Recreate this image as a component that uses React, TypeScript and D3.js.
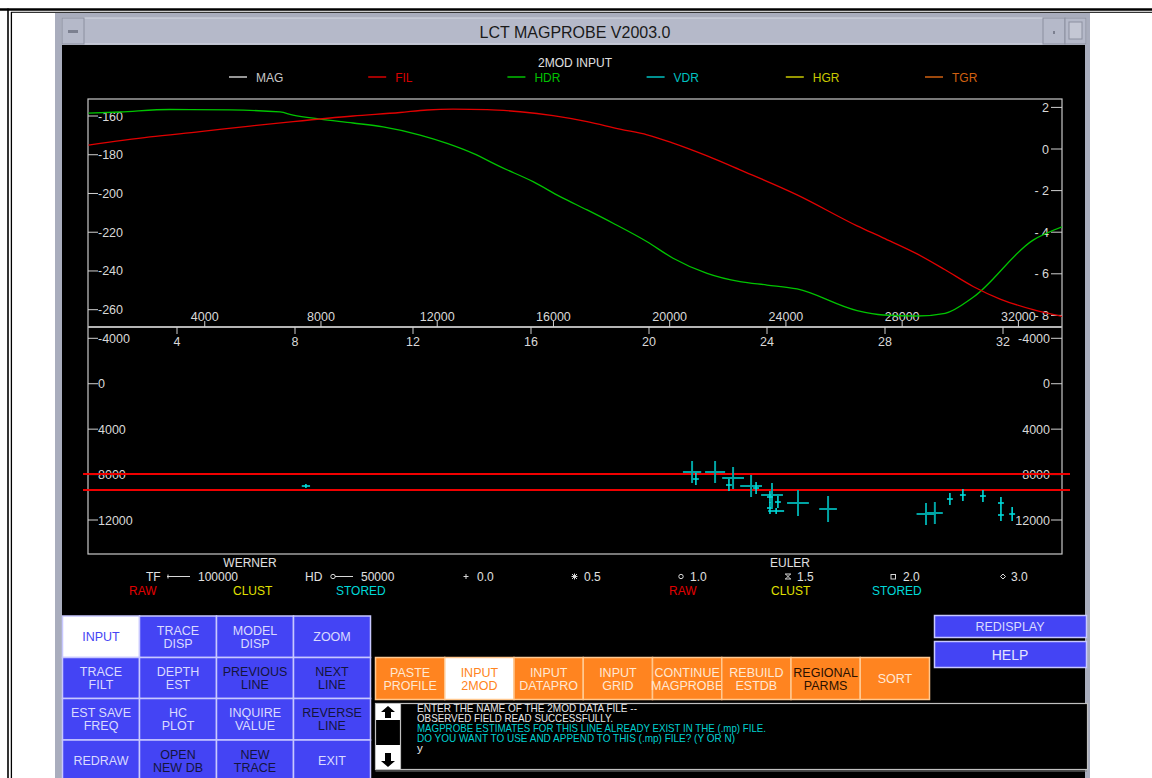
import * as d3 from "d3";

// top profile (distance in m)
const filDist = [0, 2116, 3838, 5559, 7040, 9105, 10723, 11652, 12547, 13717, 14853, 15988, 17158, 18290, 19222, 20117, 21287, 22422, 24384, 26449, 27344, 28514, 29477, 30441, 31370, 32506, 33504];
const filVal = [-175.0, -170.8, -168.1, -165.2, -162.9, -160.0, -158.2, -156.9, -156.5, -156.7, -157.8, -159.8, -162.9, -166.8, -169.7, -174.0, -180.6, -187.8, -200.7, -216.7, -222.9, -231.2, -239.4, -248.0, -254.5, -260.0, -263.5];
const hdrDist = [0, 1084, 2805, 4869, 6590, 7040, 7969, 9105, 10137, 11411, 12340, 13235, 14164, 15299, 16229, 17158, 18053, 19222, 20117, 21287, 22422, 23351, 24384, 26449, 27344, 28514, 29477, 30441, 32506, 33504];
const hdrVal = [1.72, 1.78, 1.9, 1.88, 1.78, 1.63, 1.44, 1.25, 1.06, 0.67, 0.27, -0.21, -0.85, -1.57, -2.29, -2.93, -3.57, -4.46, -5.25, -5.98, -6.38, -6.54, -6.73, -7.77, -7.98, -8.03, -7.9, -7.13, -4.38, -3.74];

// depth solutions (km, m)
const solKm = [21.46, 21.59, 22.24, 22.85, 22.71, 23.46, 23.63, 24.17, 24.1, 24.1, 24.37, 24.31, 25.05, 26.07, 29.39, 29.69, 30.2, 30.64, 31.32, 31.93, 31.93, 32.31, 8.37];
const solDepth = [7774, 8390, 7774, 8302, 8918, 9007, 9183, 9799, 9975, 10944, 10415, 11208, 10504, 11032, 11472, 11384, 10151, 9799, 9887, 10504, 11560, 11472, 9007];
const solErrKm = [0.31, 0.1, 0.34, 0.37, 0.1, 0.37, 0.1, 0.37, 0.1, 0.1, 0.1, 0.27, 0.37, 0.3, 0.32, 0.27, 0.1, 0.1, 0.1, 0.1, 0.1, 0.1, 0.14];
const solErrDepth = [969, 530, 969, 969, 530, 969, 530, 1057, 530, 530, 530, 260, 1145, 1145, 969, 969, 530, 530, 530, 530, 530, 620, 180];
const horizonDepths = [7950, 9360];

const leftTicksTop = [-160, -180, -200, -220, -240, -260];
const rightTicksTop = [2, 0, -2, -4, -6, -8];
const meterTicks = [4000, 8000, 12000, 16000, 20000, 24000, 28000, 32000];
const kmTicks = [4, 8, 12, 16, 20, 24, 28, 32];
const depthTicks = [-4000, 0, 4000, 8000, 12000];

const legendNames = ["MAG", "FIL", "HDR", "VDR", "HGR", "TGR"];
const legendColors = ["#c8c8c8", "#d80000", "#00c000", "#00c0c0", "#c8c800", "#d06010"];

const leftButtons = [
  ["INPUT"], ["TRACE", "DISP"], ["MODEL", "DISP"], ["ZOOM"],
  ["TRACE", "FILT"], ["DEPTH", "EST"], ["PREVIOUS", "LINE"], ["NEXT", "LINE"],
  ["EST SAVE", "FREQ"], ["HC", "PLOT"], ["INQUIRE", "VALUE"], ["REVERSE", "LINE"],
  ["REDRAW"], ["OPEN", "NEW DB"], ["NEW", "TRACE"], ["EXIT"],
];
const leftDark = [6, 7, 11, 13, 14];
const orangeButtons = [["PASTE", "PROFILE"], ["INPUT", "2MOD"], ["INPUT", "DATAPRO"], ["INPUT", "GRID"], ["CONTINUE", "MAGPROBE"], ["REBUILD", "ESTDB"], ["REGIONAL", "PARMS"], ["SORT"]];
const messages = [
  ["ENTER THE NAME OF THE 2MOD DATA FILE --", "#e8e8e8", 220],
  ["OBSERVED FIELD READ SUCCESSFULLY.", "#e8e8e8", 196],
  ["MAGPROBE ESTIMATES FOR THIS LINE ALREADY EXIST IN THE (.mp) FILE.", "#00d0d0", 349],
  ["DO YOU WANT TO USE AND APPEND TO THIS (.mp) FILE? (Y OR N)", "#00d0d0", 318],
  ["y", "#e8e8e8", 0],
];

const font = "Liberation Sans, Arial, sans-serif";
const BLUE = "#4444f4";
const ORANGE = "#ff8420";
const LEG = "#d8d8d8";

const px0 = 88, px1 = 1062, topY0 = 99, midY = 327, botY1 = 554;

const xM = d3.scaleLinear().domain([0, 33500]).range([88.5, 1062]);
const xKm = d3.scaleLinear().domain([0, 34]).range([59, 1062]);
const yL = d3.scaleLinear().domain([-160, -260]).range([116, 309.7]);
const yR = d3.scaleLinear().domain([2, -8]).range([107.4, 315.4]);
const yD = d3.scaleLinear().domain([-4000, 12000]).range([338.3, 520]);

const Lines = ({ lines, x, y, fill, size = 12.5, gap = 13 }: any) => (
  <text x={x} textAnchor="middle" fill={fill} fontSize={size} fontFamily={font}>
    {lines.map((l: string, i: number) => (
      <tspan key={i} x={x} y={y + (i - (lines.length - 1) / 2) * gap + 4.5}>{l}</tspan>
    ))}
  </text>
);

export default function App() {
  const filLine = d3.line<number>().x((_, i) => xM(filDist[i])).y((v) => yL(v)).curve(d3.curveMonotoneX)(filVal) || "";
  const hdrLine = d3.line<number>().x((_, i) => xM(hdrDist[i])).y((v) => yR(v)).curve(d3.curveMonotoneX)(hdrVal) || "";
  const colW = 77, rowTops = [616, 657.5, 698.5, 740, 790];
  const oW = (929 - 375) / 8;
  const my = 576.5;

  return (
    <svg width={1152} height={778} style={{ position: "absolute", left: 0, top: 0, background: "#fff" }} fontFamily={font}>
      <defs>
        <clipPath id="topClip"><rect x={px0} y={topY0} width={px1 - px0} height={midY - topY0} /></clipPath>
      </defs>
      {/* page borders */}
      <line x1={0} x2={1152} y1={9.5} y2={9.5} stroke="#000" strokeWidth={2.5} />
      <line x1={11} x2={1152} y1={12.3} y2={12.3} stroke="#000" strokeWidth={1} />
      <line x1={8} x2={8} y1={8.5} y2={778} stroke="#000" strokeWidth={1.6} />
      <line x1={11.4} x2={11.4} y1={12} y2={778} stroke="#000" strokeWidth={1.3} />

      {/* window */}
      <rect x={55} y={13} width={1035} height={765} fill="#a9adbd" />
      <rect x={62} y={18} width={1024} height={26} fill="#b5b9c9" stroke="#d4d7e2" />
      <rect x={62} y={18} width={22} height={26} fill="#b5b9c9" stroke="#8c90a0" />
      <rect x={68} y={30} width={10} height={3} fill="#7c8090" />
      <rect x={1043} y={18} width={22} height={26} fill="#b5b9c9" stroke="#8c90a0" />
      <rect x={1053} y={31} width={2} height={3} fill="#7c8090" />
      <rect x={1065} y={18} width={21} height={26} fill="#b5b9c9" stroke="#8c90a0" />
      <rect x={1069} y={22} width={13} height={17} fill="#c4c7d4" stroke="#8c90a0" />
      <text x={575} y={38} textAnchor="middle" fontSize={16} fill="#1a1a1a">LCT MAGPROBE V2003.0</text>
      <rect x={62} y={45} width={1023} height={733} fill="#000" />

      {/* top legend */}
      <text x={575} y={67} textAnchor="middle" fontSize={12} fill="#e0e0e0">2MOD INPUT</text>
      {legendNames.map((n, i) => (
        <g key={n} transform={`translate(${229 + i * 139.2},0)`}>
          <line x1={0} x2={18} y1={77} y2={77} stroke={legendColors[i]} strokeWidth={1.5} />
          <text x={27} y={82} fontSize={12} fill={legendColors[i]}>{n}</text>
        </g>
      ))}

      {/* frames */}
      <rect x={px0} y={topY0} width={px1 - px0} height={botY1 - topY0} fill="none" stroke="#c8c8c8" strokeWidth={1.2} />
      <line x1={px0} x2={px1} y1={midY} y2={midY} stroke="#b4b4b4" strokeWidth={2.2} />

      {/* top chart axes */}
      {leftTicksTop.map((t) => (
        <g key={t}>
          <line x1={px0} x2={98} y1={yL(t)} y2={yL(t)} stroke="#d0d0d0" />
          <text x={98} y={yL(t) + 4.5} fontSize={12.5} fill="#d8d8d8">{t}</text>
        </g>
      ))}
      {rightTicksTop.map((t) => (
        <g key={t}>
          <line x1={1051} x2={px1} y1={yR(t)} y2={yR(t)} stroke="#d0d0d0" />
          <text x={1049} y={yR(t) + 4.5} textAnchor="end" fontSize={12.5} fill="#d8d8d8">{t < 0 ? `- ${-t}` : t}</text>
        </g>
      ))}
      {meterTicks.map((t) => (
        <g key={t}>
          <line x1={xM(t)} x2={xM(t)} y1={321} y2={midY} stroke="#d0d0d0" />
          <text x={xM(t)} y={321} textAnchor="middle" fontSize={12.5} fill="#d8d8d8">{t}</text>
        </g>
      ))}
      {kmTicks.map((t) => (
        <g key={t}>
          <line x1={xKm(t)} x2={xKm(t)} y1={midY} y2={334} stroke="#d0d0d0" />
          <text x={xKm(t)} y={346} textAnchor="middle" fontSize={12.5} fill="#d8d8d8">{t}</text>
        </g>
      ))}
      <g clipPath="url(#topClip)">
        <path d={hdrLine} fill="none" stroke="#00c400" strokeWidth={1.3} />
        <path d={filLine} fill="none" stroke="#e00000" strokeWidth={1.3} />
      </g>

      {/* bottom chart axes */}
      {depthTicks.map((t) => (
        <g key={t}>
          <line x1={px0} x2={98} y1={yD(t)} y2={yD(t)} stroke="#d0d0d0" />
          <text x={98} y={yD(t) + 4.5} fontSize={12.5} fill="#d8d8d8">{t}</text>
          <line x1={1051} x2={px1} y1={yD(t)} y2={yD(t)} stroke="#d0d0d0" />
          <text x={1050} y={yD(t) + 4.5} textAnchor="end" fontSize={12.5} fill="#d8d8d8">{t}</text>
        </g>
      ))}
      {horizonDepths.map((d) => (
        <line key={d} x1={83} x2={1070} y1={yD(d)} y2={yD(d)} stroke="#f00000" strokeWidth={2} />
      ))}
      {solKm.map((k, i) => {
        const big = solErrDepth[i] > 900;
        const c = big ? "#00a4a4" : "#00dada";
        return (
          <g key={i} stroke={c} strokeWidth={big ? 2 : 1.6}>
            <line x1={xKm(k - solErrKm[i])} x2={xKm(k + solErrKm[i])} y1={yD(solDepth[i])} y2={yD(solDepth[i])} />
            <line x1={xKm(k)} x2={xKm(k)} y1={yD(solDepth[i] - solErrDepth[i])} y2={yD(solDepth[i] + solErrDepth[i])} />
          </g>
        );
      })}

      {/* bottom legend */}
      <g fontSize={12} fill="#e0e0e0">
        <text x={250} y={567} textAnchor="middle">WERNER</text>
        <text x={790} y={567} textAnchor="middle">EULER</text>
        <text x={146} y={581}>TF</text>
        <text x={198} y={581}>100000</text>
        <text x={305} y={581}>HD</text>
        <text x={361} y={581}>50000</text>
        <text x={477} y={581}>0.0</text>
        <text x={584} y={581}>0.5</text>
        <text x={690} y={581}>1.0</text>
        <text x={797} y={581}>1.5</text>
        <text x={903} y={581}>2.0</text>
        <text x={1011} y={581}>3.0</text>
        <text x={129} y={595} fill="#e00000">RAW</text>
        <text x={233} y={595} fill="#e0e000">CLUST</text>
        <text x={336} y={595} fill="#00d8d8">STORED</text>
        <text x={669} y={595} fill="#e00000">RAW</text>
        <text x={771} y={595} fill="#e0e000">CLUST</text>
        <text x={872} y={595} fill="#00d8d8">STORED</text>
      </g>
      <g stroke={LEG} fill="none" strokeWidth={1}>
        <path d={`M167,${my} H190 M168,${my - 2} V${my + 2}`} />
        <circle cx={333} cy={my} r={2.2} />
        <path d={`M335,${my} H353`} />
        <path d={`M463.5,${my} h5 M466,${my - 2.5} v5`} />
        <path d={`M572,${my - 2.5} l5,5 M577,${my - 2.5} l-5,5 M574.5,${my - 3} v6 M571.5,${my} h6`} />
        <circle cx={681} cy={my} r={2.2} />
        <path d={`M785.5,${my - 2.5} l5,5 M790.5,${my - 2.5} l-5,5 M785,${my - 2.5} h6 M785,${my + 2.5} h6`} />
        <rect x={891} y={my - 2} width={4.5} height={4.5} />
        <path d={`M1003,${my - 2.5} l2.5,2.5 l-2.5,2.5 l-2.5,-2.5z`} />
      </g>

      {/* left button grid */}
      {leftButtons.map((b, i) => {
        const c = i % 4, r = Math.floor(i / 4);
        const x = 62.5 + c * colW, y = rowTops[r], h = rowTops[r + 1] - y;
        const active = i === 0;
        const fill = active ? BLUE : leftDark.includes(i) ? "#14143c" : "#dadaff";
        return (
          <g key={i}>
            <rect x={x} y={y} width={colW} height={h} fill={active ? "#fff" : BLUE} stroke="#c8c8ff" strokeWidth={1.5} />
            <Lines lines={b} x={x + colW / 2} y={r === 3 ? 760.5 : y + h / 2} fill={fill} />
          </g>
        );
      })}

      {/* orange buttons */}
      {orangeButtons.map((b, i) => {
        const x = 375.5 + i * oW;
        const active = i === 1;
        const fill = active ? ORANGE : i === 6 ? "#2a1000" : "#ffe8d4";
        return (
          <g key={i}>
            <rect x={x} y={657.5} width={oW} height={42} fill={active ? "#fff" : ORANGE} stroke="#ffc890" strokeWidth={1.5} />
            <Lines lines={b} x={x + oW / 2} y={678.5} fill={fill} />
          </g>
        );
      })}

      {/* right buttons */}
      <rect x={934.5} y={615.5} width={152} height={22} fill={BLUE} stroke="#c8c8ff" strokeWidth={1.5} />
      <text x={1010} y={631} textAnchor="middle" fontSize={12.5} fill="#dadaff">REDISPLAY</text>
      <rect x={934.5} y={641.5} width={152} height={26} fill={BLUE} stroke="#c8c8ff" strokeWidth={1.5} />
      <text x={1010} y={660} textAnchor="middle" fontSize={14} fill="#e4e4ff">HELP</text>

      {/* message area */}
      <rect x={375.5} y={703.5} width={712} height={66} fill="#000" stroke="#c0c0c0" strokeWidth={1.2} />
      <line x1={400.5} x2={400.5} y1={703.5} y2={769.5} stroke="#c0c0c0" strokeWidth={1.2} />
      <rect x={376} y={704} width={24} height={16} fill="#fff" />
      <path d="M388,706 l7,6 h-4 v6 h-6 v-6 h-4z" fill="#000" />
      <rect x={376} y={745} width={24} height={24} fill="#fff" />
      <path d="M388,767 l7,-6 h-4 v-8 h-6 v8 h-4z" fill="#000" />
      {messages.map(([t, c, w], i) => (
        <text key={i} x={417} y={712 + i * 10} fontSize={11.5} fill={c as string}
          {...(w ? { textLength: w as number, lengthAdjust: "spacingAndGlyphs" } : {})}>{t}</text>
      ))}
      <line x1={375.5} x2={1087} y1={771} y2={771} stroke="#808080" />
    </svg>
  );
}
